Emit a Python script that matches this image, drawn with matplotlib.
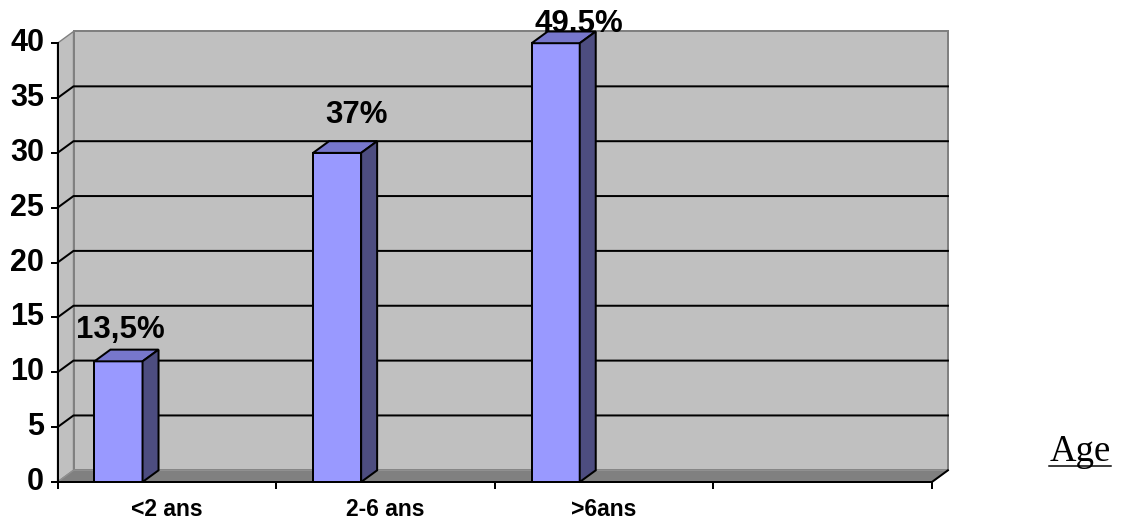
import matplotlib
matplotlib.use('Agg')
import matplotlib.pyplot as plt
from matplotlib.patches import Polygon
from matplotlib.lines import Line2D

# ---- data ----
categories = ["<2 ans", "2-6 ans", ">6ans", ""]
values = [11, 30, 40]
bar_labels = ["13,5%", "37%", "49,5%"]
yticks = [0, 5, 10, 15, 20, 25, 30, 35, 40]
axis_title = "Age"

# ---- layout (pixels) ----
W, H, DPI = 1121, 524, 100
X0, SLOT = 57.5, 218.6      # front x-axis start, width of one category slot
Y0, UNIT = 482.0, 10.97     # y pixel (from top) of value 0, pixels per unit
DXP, DYP = 16.0, 11.7       # 3D depth offset
LBL_DX = [2, 19.5, 23.5]    # bar label offsets (px)
LBL_DY = [23, 30, 11]

plt.rcParams['font.family'] = ['Liberation Sans', 'DejaVu Sans']

fig = plt.figure(figsize=(W / DPI, H / DPI), dpi=DPI)
ax = fig.add_axes([0, 0, 1, 1])
ax.set_xlim(-X0 / SLOT, (W - X0) / SLOT)
ax.set_ylim(-(H - Y0) / UNIT, Y0 / UNIT)
ax.axis('off')

DX, DY = DXP / SLOT, DYP / UNIT
n = len(categories)
ymax = yticks[-1]
LW = 2 * 72 / DPI

# walls
ax.add_patch(Polygon([(0, 0), (0, ymax), (DX, ymax + DY), (DX, DY)], closed=True,
                     fc='#C0C0C0', ec='#808080', lw=1.0, zorder=1))
ax.add_patch(Polygon([(DX, DY), (n + DX, DY), (n + DX, ymax + DY), (DX, ymax + DY)], closed=True,
                     fc='#C0C0C0', ec='#808080', lw=LW, zorder=1))
ax.add_patch(Polygon([(0, 0), (n, 0), (n + DX, DY), (DX, DY)], closed=True,
                     fc='#808080', ec='#909090', lw=1.0, zorder=2))

# gridlines
for t in yticks[1:-1]:
    ax.add_line(Line2D([0, DX, n + DX], [t, t + DY, t + DY], color='black', lw=LW, zorder=3))

# bar labels (behind bars)
for i, (v, lab) in enumerate(zip(values, bar_labels)):
    x0 = i + 0.169
    w = 0.22
    ax.annotate(lab, xy=(x0 + w / 2, v), xytext=(LBL_DX[i], LBL_DY[i]),
                textcoords='offset pixels', ha='center', va='baseline',
                fontsize=22.5, fontweight='bold', zorder=4)

# bars
for i, v in enumerate(values):
    x0 = i + 0.169
    w = 0.22
    ax.bar(x0, v, width=w, align='edge', color='#9999FF', edgecolor='black', lw=LW, zorder=5)
    ax.add_patch(Polygon([(x0, v), (x0 + w, v), (x0 + w + DX, v + DY), (x0 + DX, v + DY)], closed=True,
                         fc='#7777CC', ec='black', lw=LW, zorder=5))
    ax.add_patch(Polygon([(x0 + w, 0), (x0 + w + DX, DY), (x0 + w + DX, v + DY), (x0 + w, v)], closed=True,
                         fc='#4D4D80', ec='black', lw=LW, zorder=5))

# axes lines and ticks
ax.add_line(Line2D([0, 0], [0, ymax], color='black', lw=LW, zorder=6))
ax.add_line(Line2D([0, n, n + DX], [0, 0, DY], color='black', lw=LW, zorder=6))
for t in yticks:
    ax.add_line(Line2D([-6 / SLOT, 0], [t, t], color='black', lw=LW, zorder=6))
    ax.text(-13.5 / SLOT, t, str(t), ha='right', va='center', fontsize=22, fontweight='bold')
for k in range(n + 1):
    ax.add_line(Line2D([k, k], [0, -6 / UNIT], color='black', lw=LW, zorder=6))
for i, c in enumerate(categories):
    ax.text(i + 0.5, -28 / UNIT, c, ha='center', va='center', fontsize=16.5, fontweight='bold')

# axis title with underline
t = fig.text(1080 / W, 1 - 461 / H, axis_title, ha='center', va='baseline',
             family=['Liberation Serif', 'DejaVu Serif'], fontsize=26.5)
fig.canvas.draw()
bb = t.get_window_extent()
fig.add_artist(Line2D([bb.x0 / W, bb.x1 / W], [1 - 466 / H, 1 - 466 / H],
                      transform=fig.transFigure, color='black', lw=1.5 * 72 / DPI))

fig.savefig('out.png', dpi=DPI)
